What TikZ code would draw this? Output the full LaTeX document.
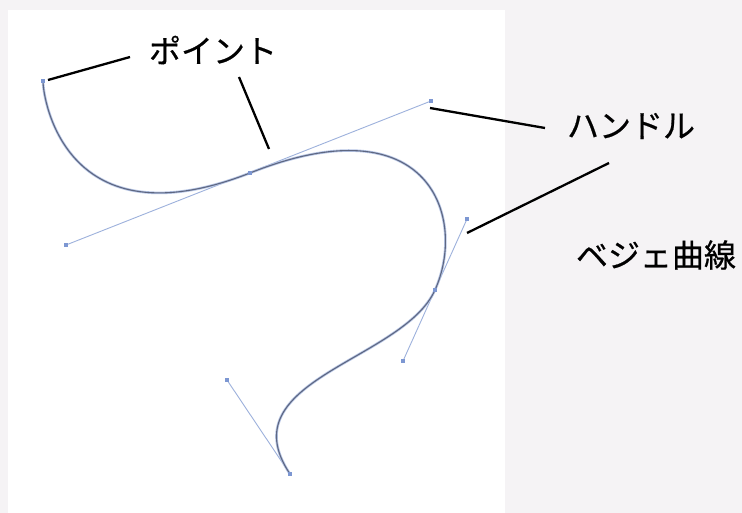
\documentclass[tikz,border=0pt]{standalone}
\usepackage{fontspec}
\newfontfamily\jpfont[FakeBold=0.6]{Noto Sans CJK JP}
\definecolor{bgc}{HTML}{F5F3F5}
\definecolor{handlec}{HTML}{9DB1DC}
\definecolor{curvec}{HTML}{5E6782}
\definecolor{haloc}{HTML}{B7C6E6}
\definecolor{markc}{HTML}{7D97D2}
\tikzset{
  handle/.style={draw=handlec, line width=0.9pt},
  curvehalo/.style={draw=haloc, line width=2.6pt},
  curveline/.style={draw=curvec, line width=1.1pt},
  leader/.style={draw=black, line width=2.3pt},
  lbl/.style={font=\jpfont\fontsize{32}{34}\selectfont, inner sep=0pt, anchor=center},
  marker/.style={fill=markc, minimum size=4pt, inner sep=0pt, rectangle}
}
\begin{document}
\begin{tikzpicture}[x=1pt,y=-1pt]
\useasboundingbox (0,0) rectangle (742,513);
\fill[bgc] (0,0) rectangle (742,513);
\fill[white] (8,10) rectangle (505,513);
% anchor points and handle ends
\coordinate (A) at (43,81);
\coordinate (B) at (250,173);
\coordinate (C) at (435,290);
\coordinate (D) at (290,474);
\coordinate (H1a) at (66,245);
\coordinate (H1b) at (431,101);
\coordinate (H2a) at (467,219);
\coordinate (H2b) at (403,361);
\coordinate (H3a) at (227,380);
% handles
\draw[handle] (H1a) -- (H1b);
\draw[handle] (H2a) -- (H2b);
\draw[handle] (H3a) -- (D);
% curve
\draw[curvehalo] (A) .. controls (43,100) and (H1a) .. (B)
  .. controls (H1b) and (H2a) .. (C)
  .. controls (H2b) and (H3a) .. (D);
\draw[curveline] (A) .. controls (43,100) and (H1a) .. (B)
  .. controls (H1b) and (H2a) .. (C)
  .. controls (H2b) and (H3a) .. (D);
% markers
\foreach \p in {A,B,C,D,H1a,H1b,H2a,H2b,H3a}
  \node[marker] (m\p) at (\p) {};
% labels
\node[lbl] (point) at (213,50) {ポイント};
\node[lbl] (handlelbl) at (631,126) {ハンドル};
\node[lbl] (bezier) at (656,255) {ベジェ曲線};
% leaders
\coordinate (p1s) at (130,57);
\coordinate (p1e) at (48,80);
\coordinate (p2s) at (239,77);
\coordinate (p2e) at (269,149);
\coordinate (h1s) at (545,128);
\coordinate (h1e) at (430,108);
\coordinate (h2s) at (609,163);
\coordinate (h2e) at (467,233);
\draw[leader] (p1s) -- (p1e);
\draw[leader] (p2s) -- (p2e);
\draw[leader] (h1s) -- (h1e);
\draw[leader] (h2s) -- (h2e);
\end{tikzpicture}
\end{document}
